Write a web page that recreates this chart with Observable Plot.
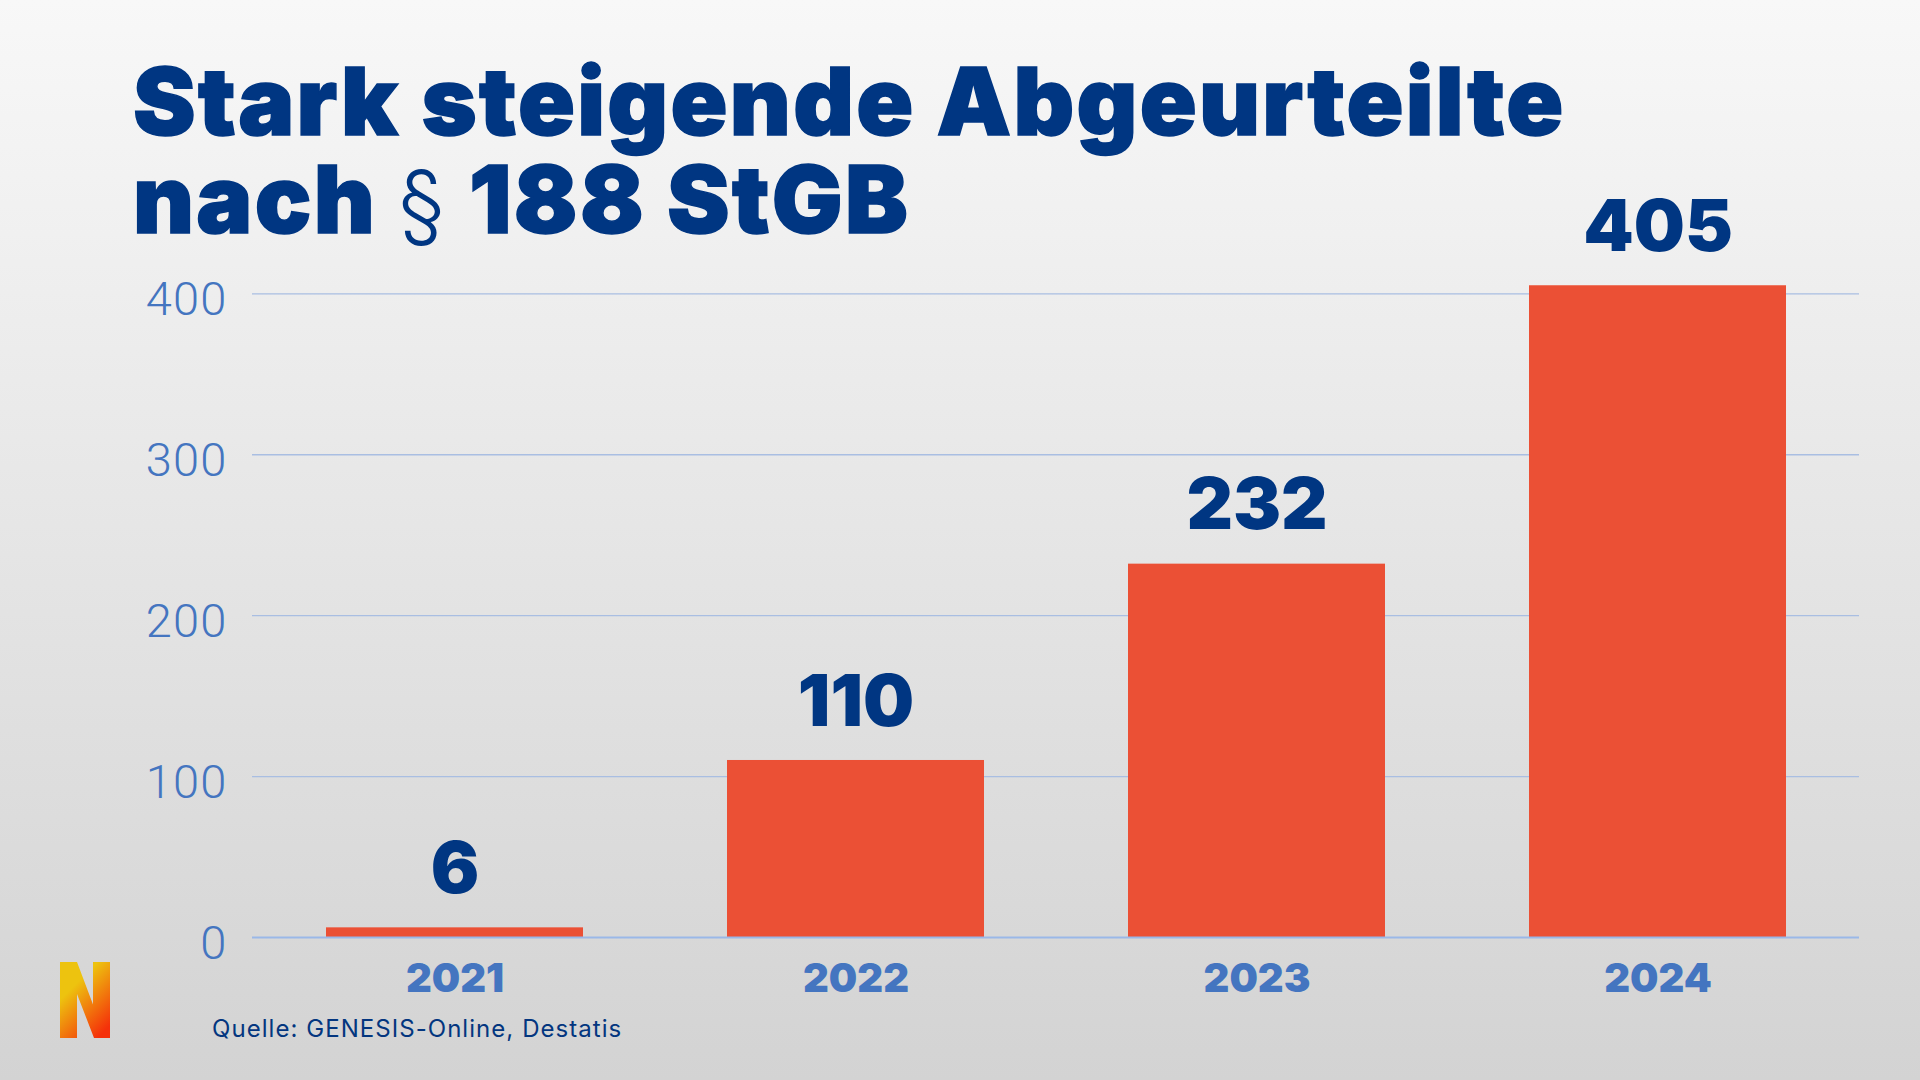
<!DOCTYPE html>
<html lang="de">
<head>
<meta charset="utf-8">
<script src="https://cdn.jsdelivr.net/npm/d3@7"></script>
<script src="https://cdn.jsdelivr.net/npm/@observablehq/plot@0.6"></script>
<style>
html,body{margin:0;padding:0;width:1920px;height:1080px;overflow:hidden}
#page{position:relative;width:1920px;height:1080px;background:linear-gradient(180deg,#f8f8f8 0%,#d3d3d3 100%)}
#chart{position:absolute;left:0;top:0}
#chart svg{background:transparent;display:block}
#chart g[aria-label="y-axis tick label"]{letter-spacing:1.2px}
h1{position:absolute;left:133px;top:52px;margin:0;font:900 94px/98px Inter,sans-serif;color:#003682;letter-spacing:2.3px;-webkit-text-stroke:1.5px #003682;white-space:nowrap}
h1 .p{font-weight:300;-webkit-text-stroke:0;letter-spacing:0;font-size:86px;margin:0 3px 0 0}
#src{position:absolute;left:212px;top:1014px;font:400 24px/30px Inter,sans-serif;color:#03367f;letter-spacing:1.05px;white-space:nowrap}
#logo{position:absolute;left:60px;top:962px;width:50px;height:76px;background:linear-gradient(135deg,#edc30f 0%,#edc30f 30%,#f5300a 90%);clip-path:polygon(0 0,34% 0,66% 56%,66% 0,100% 0,100% 100%,68% 100%,34% 42%,34% 100%,0 100%)}
</style>
</head>
<body>
<div id="page">
  <div id="chart"></div>
  <h1>Stark steigende Abgeurteilte<br>nach <span class="p">§</span> 188 StGB</h1>
  <div id="logo"></div>
  <div id="src">Quelle: GENESIS-Online, Destatis</div>
</div>
<script>
const years = ["2021","2022","2023","2024"];
const counts = [6,110,232,405];
const yTicks = [0,100,200,300,400];
const rows = years.map((year,i)=>({year,count:counts[i]}));
const blue = "#4475c0", navy = "#003682";
const chart = Plot.plot({
  width:1920,height:1080,
  marginLeft:252,marginRight:61,marginTop:293.3,marginBottom:143,
  style:{background:"transparent",fontFamily:"Inter, sans-serif"},
  x:{domain:years,paddingInner:0.36,paddingOuter:0.18,label:null},
  y:{domain:[0,400],label:null},
  marks:[
    Plot.ruleY(yTicks.slice(1),{stroke:"#a9bee2",strokeWidth:1.3}),
    Plot.barY(rows,{x:"year",y:"count",fill:"#eb5035"}),
    Plot.ruleY([0],{stroke:"#9ab8e8",strokeWidth:2}),
    Plot.axisY({ticks:yTicks,tickSize:0,tickPadding:0,dx:-25,dy:6,label:null,
      fontFamily:"Roboto, sans-serif",fontWeight:300,fontSize:47,fill:blue,tickFormat:d=>String(d)}),
    Plot.axisX({tickSize:0,tickPadding:0,dy:26,label:null,fontFamily:"Inter, sans-serif",fontWeight:900,fontSize:40,fill:blue}),
    Plot.text(rows,{x:"year",y:"count",text:d=>String(d.count),dy:-58,fill:navy,fontWeight:900,fontSize:72,fontFamily:"Inter, sans-serif"})
  ]
});
document.getElementById("chart").appendChild(chart);
</script>
</body>
</html>
